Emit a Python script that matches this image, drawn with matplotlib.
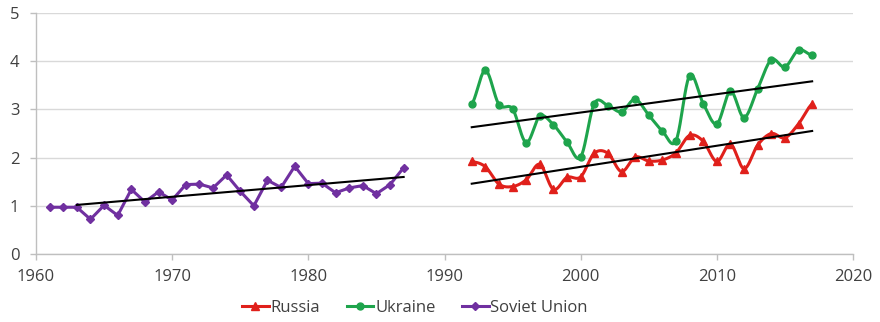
import numpy as np
import matplotlib
matplotlib.use("Agg")
import matplotlib.pyplot as plt
from matplotlib.lines import Line2D

plt.rcParams['font.family'] = ['Open Sans', 'DejaVu Sans']

# Soviet Union, 1961-1987
soviet_years = list(range(1961, 1988))
soviet_vals = [0.97, 0.97, 0.97, 0.72, 1.01, 0.80, 1.34, 1.08, 1.29, 1.12,
               1.44, 1.45, 1.37, 1.64, 1.30, 1.00, 1.53, 1.38, 1.82, 1.46,
               1.47, 1.27, 1.37, 1.42, 1.25, 1.44, 1.79]

# Russia and Ukraine, 1992-2017
post_years = list(range(1992, 2018))
russia_vals = [1.92, 1.81, 1.45, 1.40, 1.54, 1.86, 1.34, 1.59, 1.60, 2.09,
               2.09, 1.71, 2.01, 1.93, 1.95, 2.10, 2.46, 2.34, 1.92, 2.28,
               1.77, 2.26, 2.50, 2.41, 2.70, 3.11]
ukraine_vals = [3.11, 3.81, 3.10, 3.01, 2.31, 2.86, 2.68, 2.32, 2.01, 3.12,
                3.08, 2.95, 3.21, 2.88, 2.55, 2.35, 3.70, 3.12, 2.70, 3.38,
                2.83, 3.43, 4.03, 3.88, 4.23, 4.12]

soviet_trend_from = 1963

x_ticks = [1960, 1970, 1980, 1990, 2000, 2010, 2020]
y_ticks = [0, 1, 2, 3, 4, 5]

RED = '#e0201b'
GREEN = '#1ea44c'
PURPLE = '#7030a0'


def smooth(xs, ys, n=20):
    """Catmull-Rom style smoothing through every point."""
    xs = np.asarray(xs, float)
    ys = np.asarray(ys, float)
    px = np.concatenate([[2 * xs[0] - xs[1]], xs, [2 * xs[-1] - xs[-2]]])
    py = np.concatenate([[ys[0]], ys, [ys[-1]]])
    ox, oy = [], []
    t = np.linspace(0, 1, n, endpoint=False)
    h00 = 2 * t**3 - 3 * t**2 + 1
    h10 = t**3 - 2 * t**2 + t
    h01 = -2 * t**3 + 3 * t**2
    h11 = t**3 - t**2
    k = 0.5
    for i in range(1, len(px) - 2):
        for arr, a in ((oy, py), (ox, px)):
            m1 = k * (a[i + 1] - a[i - 1])
            m2 = k * (a[i + 2] - a[i])
            arr.extend(h00 * a[i] + h10 * m1 + h01 * a[i + 1] + h11 * m2)
    ox.append(xs[-1])
    oy.append(ys[-1])
    return np.array(ox), np.array(oy)


fig = plt.figure(figsize=(8.8, 3.22), dpi=100)
ax = fig.add_axes([36 / 880, 1 - 254 / 322, (853 - 36) / 880, (254 - 13) / 322])

ax.set_xlim(1960, 2020)
ax.set_ylim(0, 5)
ax.set_xticks(x_ticks)
ax.set_yticks(y_ticks)
ax.grid(axis='y', color='#d9d9d9', linewidth=1.0)
ax.set_axisbelow(True)
for s in ('top', 'right'):
    ax.spines[s].set_visible(False)
for s in ('left', 'bottom'):
    ax.spines[s].set_color('#bfbfbf')
    ax.spines[s].set_linewidth(1.0)
ax.tick_params(axis='both', colors='#bfbfbf', labelcolor='#404040',
               labelsize=12, length=4, width=1.0)
ax.tick_params(axis='x', pad=6.5)
ax.tick_params(axis='y', pad=8)

lw = 2.2
# Soviet Union (straight segments)
ax.plot(soviet_years, soviet_vals, color=PURPLE, lw=lw, zorder=3)
ax.plot(soviet_years, soviet_vals, ls='none', marker='D', ms=4.5,
        color=PURPLE, zorder=4)

# Russia and Ukraine (smoothed)
for vals, col, mk, ms in ((ukraine_vals, GREEN, 'o', 5),
                          (russia_vals, RED, '^', 6)):
    sx, sy = smooth(post_years, vals)
    ax.plot(sx, sy, color=col, lw=lw, zorder=3)
    ax.plot(post_years, vals, ls='none', marker=mk, ms=ms, color=col, zorder=4)


# Linear trend lines
def trend(xs, ys, x0=None):
    c = np.polyfit(xs, ys, 1)
    a = xs[0] if x0 is None else x0
    b = xs[-1]
    ax.plot([a, b], np.polyval(c, [a, b]), color='black', lw=1.5, zorder=5)


trend(soviet_years, soviet_vals, soviet_trend_from)
trend(post_years, ukraine_vals)
trend(post_years, russia_vals)

handles = [
    Line2D([], [], color=RED, lw=lw, marker='^', ms=6),
    Line2D([], [], color=GREEN, lw=lw, marker='o', ms=5),
    Line2D([], [], color=PURPLE, lw=lw, marker='D', ms=4.5),
]
fig.legend(handles, ['Russia', 'Ukraine', 'Soviet Union'], loc='center',
           bbox_to_anchor=(415 / 880, 1 - 308 / 322), ncol=3, frameon=False,
           fontsize=12, handlelength=1.6, handletextpad=0.1, columnspacing=1.6,
           labelcolor='#404040')

fig.savefig('out.png', dpi=100)
